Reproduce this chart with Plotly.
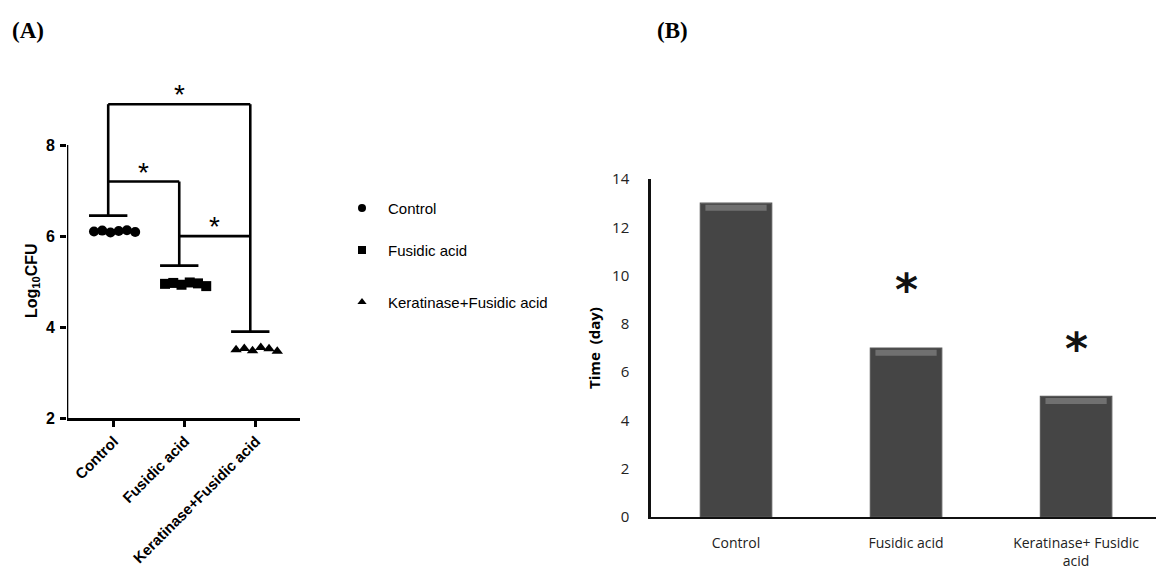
import numpy as np
import plotly.graph_objects as go

# ---------------- data ----------------
groups_a = ["Control", "Fusidic acid", "Keratinase+Fusidic acid"]
control_cfu = [6.10, 6.12, 6.08, 6.11, 6.13, 6.09]
fusidic_cfu = [4.95, 4.97, 4.93, 4.98, 4.96, 4.90]
kerat_cfu = [3.50, 3.53, 3.48, 3.55, 3.52, 3.47]
bar_levels_a = [6.45, 5.35, 3.90]
bracket_top = 8.9
bracket_mid = 7.2
bracket_low = 6.0

groups_b = ["Control", "Fusidic acid", "Keratinase+ Fusidic<br>acid"]
time_days = [13, 7, 5]
star_levels_b = [None, 9.75, 7.3]

W, H = 1156, 577
fig = go.Figure()

# ---------------- Panel A ----------------
series_a = [control_cfu, fusidic_cfu, kerat_cfu]
symbols = ["circle", "square", "triangle-up"]
for i, (vals, sym) in enumerate(zip(series_a, symbols)):
    n = len(vals)
    xs = i + np.linspace(-0.28, 0.3, n)
    fig.add_trace(go.Scatter(
        x=xs, y=vals, mode="markers", xaxis="x", yaxis="y",
        marker=dict(symbol=sym, size=10, color="black"),
        showlegend=False, hoverinfo="skip", cliponaxis=False))

off = -0.08
half = 0.27
lw = 2.6
xa = [i + off for i in range(3)]
for i, lvl in enumerate(bar_levels_a):
    fig.add_shape(type="line", xref="x", yref="y", x0=xa[i] - half, x1=xa[i] + half,
                  y0=lvl, y1=lvl, line=dict(color="black", width=lw))
seg = [
    (xa[0], bracket_top, xa[2], bracket_top),
    (xa[0], bracket_top, xa[0], bar_levels_a[0]),
    (xa[2], bracket_top, xa[2], bar_levels_a[2]),
    (xa[0], bracket_mid, xa[1], bracket_mid),
    (xa[1], bracket_mid, xa[1], bar_levels_a[1]),
    (xa[1], bracket_low, xa[2], bracket_low),
]
for x0, y0, x1, y1 in seg:
    fig.add_shape(type="line", xref="x", yref="y", x0=x0, y0=y0, x1=x1, y1=y1,
                  line=dict(color="black", width=lw))
fig.add_shape(type="line", xref="x", yref="y", x0=-0.66, x1=-0.66, y0=2, y1=8,
              line=dict(color="black", width=lw))

for xx, yy in [((xa[0] + xa[2]) / 2, bracket_top), ((xa[0] + xa[1]) / 2, bracket_mid),
               ((xa[1] + xa[2]) / 2, bracket_low)]:
    fig.add_annotation(x=xx, y=yy, xref="x", yref="y", text="*", showarrow=False,
                       yanchor="bottom", yshift=-8,
                       font=dict(family="Liberation Sans", size=28, color="black"))

# y-axis title of panel A (centred on the 2..8 axis line)
fig.add_annotation(x=32, y=281, xref="x3", yref="y3", text="<b>Log<sub>10</sub>CFU</b>",
                   showarrow=False, textangle=-90, xanchor="center", yanchor="middle",
                   font=dict(family="Liberation Sans", size=16, color="black"))

# ---------------- Panel B ----------------
fig.add_trace(go.Bar(
    x=[0, 1, 2], y=time_days, xaxis="x2", yaxis="y2", width=0.42,
    marker=dict(color="#454545", line=dict(color="#5a5a5a", width=1.2)),
    showlegend=False, hoverinfo="skip"))
fig.add_trace(go.Bar(
    x=[0, 1, 2], y=[0.25, 0.25, 0.25], base=[v - 0.32 for v in time_days],
    xaxis="x2", yaxis="y2", width=0.36,
    marker=dict(color="#707070", line=dict(width=0)),
    showlegend=False, hoverinfo="skip"))
for i, s in enumerate(star_levels_b):
    if s is not None:
        fig.add_annotation(x=i, y=s, xref="x2", yref="y2", text="<b>*</b>", showarrow=False,
                           yanchor="middle", yshift=-8,
                           font=dict(family="DejaVu Sans", size=44, color="#111"))

# ---------------- legend (manual) ----------------
leg_y = [208, 250, 302]
for sym, name, yy in zip(symbols, groups_a, leg_y):
    fig.add_trace(go.Scatter(
        x=[362], y=[yy], xaxis="x3", yaxis="y3", mode="markers",
        marker=dict(symbol=sym, size=8, color="black"),
        showlegend=False, hoverinfo="skip"))
    fig.add_annotation(x=386, y=yy, xref="x3", yref="y3", text=name, showarrow=False,
                       xanchor="left", yanchor="middle",
                       font=dict(family="Liberation Sans", size=15, color="black"))

fig.add_annotation(x=10 / W, y=1 - 30 / H, xref="paper", yref="paper", text="<b>(A)</b>",
                   showarrow=False, xanchor="left", yanchor="middle",
                   font=dict(family="Liberation Serif", size=23, color="black"))
fig.add_annotation(x=655 / W, y=1 - 30 / H, xref="paper", yref="paper", text="<b>(B)</b>",
                   showarrow=False, xanchor="left", yanchor="middle",
                   font=dict(family="Liberation Serif", size=23, color="black"))

fig.update_layout(
    width=W, height=H, margin=dict(l=0, r=0, t=0, b=0, pad=0, autoexpand=False),
    paper_bgcolor="white", plot_bgcolor="rgba(0,0,0,0)", barmode="overlay",
    showlegend=False,
    xaxis=dict(domain=[67 / W, 300 / W], range=[-0.66, 2.62], tickvals=[0, 1, 2],
               ticktext=groups_a, tickangle=-45, ticks="outside", ticklen=6, tickwidth=2.5,
               tickcolor="black", showline=True, linecolor="black", linewidth=lw,
               showgrid=False, zeroline=False, anchor="y", automargin=False,
               tickfont=dict(family="Liberation Sans", size=15, color="black", weight="bold")),
    yaxis=dict(domain=[1 - 418 / H, 1 - 86 / H], range=[2, 9.3], tickvals=[2, 4, 6, 8],
               ticks="outside", ticklen=6, tickwidth=2.5, tickcolor="black",
               showline=False, showgrid=False, zeroline=False, anchor="x", automargin=False,
               ticklabelstandoff=2,
               tickfont=dict(family="Liberation Sans", size=16, color="black", weight="bold")),
    xaxis2=dict(domain=[651 / W, 1.0], range=[-0.5, 2.47], tickvals=[0, 1, 2],
                ticktext=groups_b, tickangle=0, ticks="", showline=True, linecolor="#111",
                linewidth=2, showgrid=False, zeroline=False, anchor="y2", automargin=False,
                ticklabelstandoff=12,
                tickfont=dict(family="Open Sans", size=14, color="#222")),
    yaxis2=dict(domain=[1 - 517 / H, 1 - 179 / H], range=[0, 14], dtick=2, ticks="",
                showline=True, linecolor="#111", linewidth=2.5, showgrid=False,
                zeroline=False, anchor="x2", ticklabelstandoff=16, automargin=False,
                tickfont=dict(family="Open Sans", size=15, color="#222"),
                title=dict(text="<b>Time  (day)</b>", standoff=8,
                           font=dict(family="Open Sans", size=15, color="black"))),
    xaxis3=dict(domain=[0, 1], range=[0, W], visible=False, anchor="y3"),
    yaxis3=dict(domain=[0, 1], range=[H, 0], visible=False, anchor="x3"),
)

fig.write_html("out.html")
